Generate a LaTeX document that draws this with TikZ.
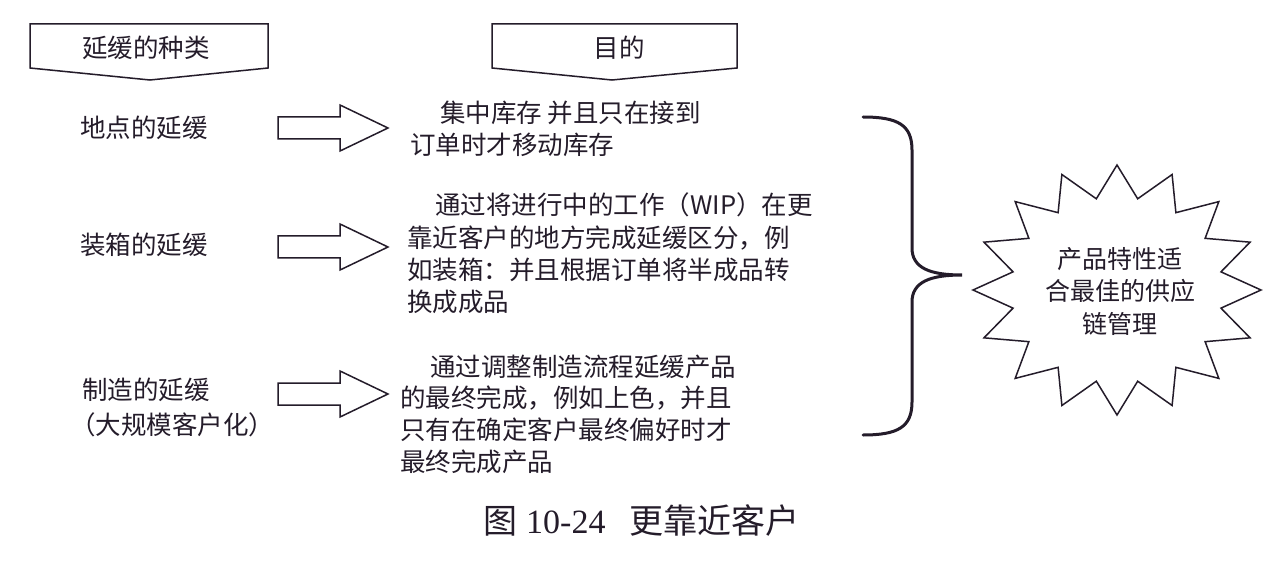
\documentclass[tikz,border=0pt]{standalone}
\usepackage{fontspec}
\newfontfamily\cjk{Noto Sans CJK SC}
\newfontfamily\serifL{Liberation Serif}
\definecolor{ink}{HTML}{241C2A}
\tikzset{
  thinline/.style={draw=ink, line width=1.5pt, line join=miter},
  braceline/.style={draw=ink, line width=3pt, line cap=round},
  txt/.style={anchor=west, inner sep=0pt, text=ink, font=\cjk\fontsize{25.5}{32}\selectfont, text height=22pt, text depth=3pt},
  headtxt/.style={inner sep=0pt, text=ink, font=\cjk\fontsize{25.5}{32}\selectfont},
  startxt/.style={inner sep=0pt, text=ink, align=center, font=\cjk\fontsize{25}{32.5}\selectfont},
  blockarrow/.pic={\draw[thinline] (0,-11) -- (62,-11) -- (62,-23) -- (110,0) -- (62,23) -- (62,11) -- (0,11) -- cycle;}
}
\begin{document}
\begin{tikzpicture}[x=1pt,y=-1pt]
\useasboundingbox[fill=white] (0,0) rectangle (1280,572);
% header boxes
\draw[thinline] (30,24) -- (268,24) -- (268,68) -- (150,80) -- (30,68) -- cycle;
\node[headtxt] (h1) at (146,48) {延缓的种类};
\draw[thinline] (492,24) -- (737,24) -- (737,68) -- (612,80) -- (492,68) -- cycle;
\node[headtxt] (h2) at (619,48) {目的};
% left labels
\node[txt] (l1) at (80,128) {地点的延缓};
\node[txt] (l2) at (80,245) {装箱的延缓};
\node[txt] (l3) at (82,390) {制造的延缓};
\node[txt] (l3b) at (70,425) {（大规模客户化）};
% block arrows
\pic (a1) at (278,128) {blockarrow};
\pic (a2) at (278,247) {blockarrow};
\pic (a3) at (278,394) {blockarrow};
% purpose texts
\node[txt] (p11) at (440,113) {集中库存 并且只在接到};
\node[txt] (p12) at (410,145) {订单时才移动库存};
\node[txt] (p21) at (435,205) {通过将进行中的工作（WIP）在更};
\node[txt] (p22) at (407,238) {靠近客户的地方完成延缓区分，例};
\node[txt] (p23) at (407,270) {如装箱：并且根据订单将半成品转};
\node[txt] (p24) at (407,302) {换成成品};
\node[txt] (p31) at (430,367) {通过调整制造流程延缓产品};
\node[txt] (p32) at (400,398) {的最终完成，例如上色，并且};
\node[txt] (p33) at (400,430) {只有在确定客户最终偏好时才};
\node[txt] (p34) at (400,462) {最终完成产品};
% brace
\draw[braceline] (863,117) .. controls (898,117) and (912,125) .. (912,150)
  -- (912,248) .. controls (912,268) and (930,275) .. (962,275)
  .. controls (930,275) and (912,282) .. (912,302)
  -- (912,402) .. controls (912,427) and (898,435) .. (863,435);
% star burst
\begin{scope}[shift={(1117,290)}]
\draw[thinline] (0,-125)
  \foreach \i in {1,...,31} {
    -- ({ifthenelse(mod(\i,2)==0,144,106)*cos(90+\i*11.25)},{-ifthenelse(mod(\i,2)==0,125,93)*sin(90+\i*11.25)})
  } -- cycle;
\end{scope}
\node[startxt] (goal) at (1120,291) {产品特性适\\合最佳的供应\\链管理};
% caption
\node[anchor=west, inner sep=0pt, text=ink, font=\fontsize{34}{40}\selectfont, text height=28pt, text depth=5pt] (cap) at (483,522)
  {{\cjk 图}\hspace{9pt}{\serifL 10-24}\hspace{24pt}{\cjk 更靠近客户}};
\end{tikzpicture}
\end{document}
